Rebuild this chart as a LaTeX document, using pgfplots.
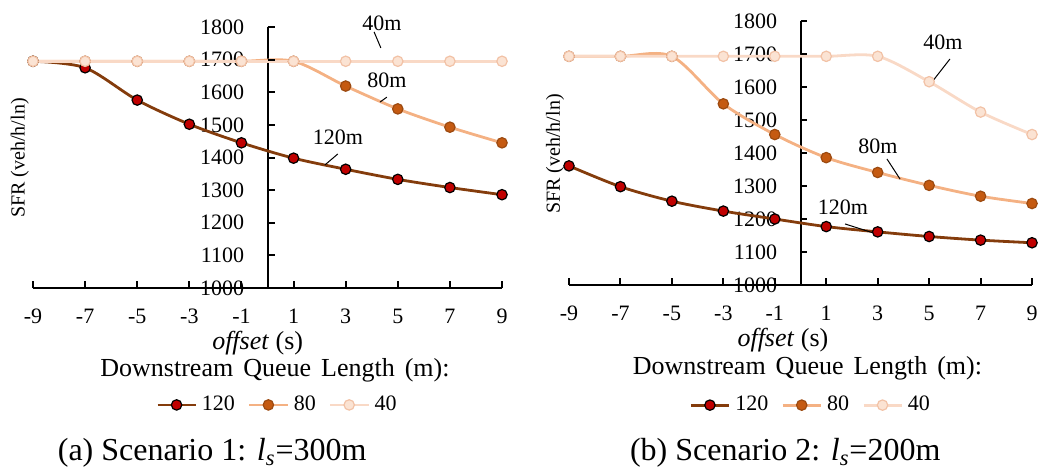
\documentclass[border=0pt]{standalone}
\usepackage{fontspec}
\setmainfont{Liberation Serif}
\usepackage{pgfplots}
\usepackage{pgfplotstable}
\pgfplotsset{compat=1.18}

\definecolor{cAline}{HTML}{843C0C}
\definecolor{cAfill}{HTML}{C00000}
\definecolor{cBline}{HTML}{F4B183}
\definecolor{cBfill}{HTML}{C55A11}
\definecolor{cBedge}{HTML}{9C4A10}
\definecolor{cCline}{HTML}{F9D9C6}
\definecolor{cCfill}{HTML}{FBE3D3}
\definecolor{cCedge}{HTML}{F2C2A6}

\pgfplotstableread{
x q120 q80 q40
-9 1695 1695 1695
-7 1675 1695 1695
-5 1576 1695 1695
-3 1502 1695 1695
-1 1445 1695 1695
1 1398 1695 1695
3 1364 1619 1695
5 1333 1549 1695
7 1308 1493 1695
9 1286 1445 1695
}\tabA

\pgfplotstableread{
x q120 q80 q40
-9 1361 1693 1693
-7 1298 1693 1693
-5 1254 1693 1693
-3 1224 1549 1693
-1 1200 1456 1693
1 1177 1386 1693
3 1161 1341 1693
5 1147 1302 1616
7 1136 1269 1524
9 1128 1247 1456
}\tabB

\newcommand\ftick{\fontsize{11}{13}\selectfont}
\newcommand\flab{\fontsize{13}{15}\selectfont}

\pgfplotsset{
  sfr/.style={
    scale only axis,
    anchor=south west,
    xmin=-9, xmax=9, ymin=1000, ymax=1800,
    axis x line=bottom, axis y line=center,
    axis line style={-, line width=1pt, black},
    hide obscured x ticks=false, hide obscured y ticks=false,
    xtick={-9,-7,...,9},
    ytick={1000,1100,...,1800},
    major tick style={draw=none},
    /pgf/number format/assume math mode=true,
    /pgf/number format/1000 sep={},
    ticklabel style={font=\ftick},
    xticklabel style={yshift=-5pt},
    yticklabel style={xshift=-6pt},
    clip=false,
    legend columns=3,
    legend style={draw=none, fill=none, font=\ftick, anchor=center,
      nodes={inner sep=0.5pt},
      /tikz/every odd column/.append style={column sep=2pt},
      /tikz/every even column/.append style={column sep=6pt},
      inner sep=0pt},
    legend cell align=left,
    legend image code/.code={
      \draw[mark repeat=2,mark phase=2] plot coordinates {(0pt,0pt) (9.5pt,0pt) (19pt,0pt)};
    },
  },
  s120/.style={cAline, line width=1.4pt, smooth, mark=*, mark size=2.6pt,
    mark options={fill=cAfill, draw=black, line width=0.6pt}},
  s80/.style={cBline, line width=1.4pt, smooth, mark=*, mark size=2.6pt,
    mark options={fill=cBfill, draw=cBedge, line width=0.6pt}},
  s40/.style={cCline, line width=1.4pt, smooth, mark=*, mark size=2.6pt,
    mark options={fill=cCfill, draw=cCedge, line width=0.6pt}},
}

\begin{document}
\begin{tikzpicture}
\path[use as bounding box] (0,0) rectangle (525pt,236pt);

% ---------- (a) ----------
\begin{axis}[sfr,
  at={(16.5pt,92pt)}, width=234.5pt, height=130.5pt,
  legend style={at={(axis description cs:0.520,-0.448)}},
]
\addplot[s120] table[x=x,y=q120] {\tabA};
\addplot[s80] table[x=x,y=q80] {\tabA};
\addplot[s40] table[x=x,y=q40] {\tabA};
\legend{120,80,40}
\draw[black, line width=1pt]
  (axis cs:-9,1000) -- (axis cs:-9,1021) (axis cs:-7,1000) -- (axis cs:-7,1021)
  (axis cs:-5,1000) -- (axis cs:-5,1021) (axis cs:-3,1000) -- (axis cs:-3,1021)
  (axis cs:-1,1000) -- (axis cs:-1,1021) (axis cs:1,1000) -- (axis cs:1,1021)
  (axis cs:3,1000) -- (axis cs:3,1021) (axis cs:5,1000) -- (axis cs:5,1021)
  (axis cs:7,1000) -- (axis cs:7,1021) (axis cs:9,1000) -- (axis cs:9,1021);
\draw[black, line width=1pt]
  (axis cs:0,1100) -- (axis cs:0.27,1100) (axis cs:0,1200) -- (axis cs:0.27,1200)
  (axis cs:0,1300) -- (axis cs:0.27,1300) (axis cs:0,1400) -- (axis cs:0.27,1400)
  (axis cs:0,1500) -- (axis cs:0.27,1500) (axis cs:0,1600) -- (axis cs:0.27,1600)
  (axis cs:0,1700) -- (axis cs:0.27,1700) (axis cs:0,1800) -- (axis cs:0.27,1800)
  (axis cs:0,1000) -- (axis cs:0.27,1000);
\node[font=\fontsize{10}{12}\selectfont, rotate=90] at (axis description cs:-0.028,0.498) {SFR (veh/h/ln)};
\node[font=\flab] at (axis description cs:0.479,-0.211) {\textit{offset} (s)};
\node[font=\flab] at (axis description cs:0.516,-0.314) {Downstream\hspace{5pt}Queue\hspace{5pt}Length\hspace{5pt}(m):};
\node[font=\fontsize{16}{18}\selectfont] at (axis description cs:0.382,-0.632) {(a) Scenario 1: \textit{l}\textsubscript{\textit{s}}=300m};
\node[font=\ftick] at (axis cs:4.39,1812) {40m};
\draw[black, line width=0.5pt] (axis cs:4.09,1785) -- (axis cs:4.35,1736);
\node[font=\ftick] at (axis cs:4.58,1638) {80m};
\draw[black, line width=0.5pt] (axis cs:4.58,1585) -- (axis cs:4.32,1570);
\node[font=\ftick] at (axis cs:2.70,1463) {120m};
\draw[black, line width=0.5pt] (axis cs:2.70,1411) -- (axis cs:2.20,1377);
\end{axis}

% ---------- (b) ----------
\begin{axis}[sfr,
  at={(284.5pt,93.5pt)}, width=231.5pt, height=132pt,
  legend style={at={(axis description cs:0.521,-0.455)}},
]
\addplot[s120] table[x=x,y=q120] {\tabB};
\addplot[s80] table[x=x,y=q80] {\tabB};
\addplot[s40] table[x=x,y=q40] {\tabB};
\legend{120,80,40}
\draw[black, line width=1pt]
  (axis cs:-9,1000) -- (axis cs:-9,1021) (axis cs:-7,1000) -- (axis cs:-7,1021)
  (axis cs:-5,1000) -- (axis cs:-5,1021) (axis cs:-3,1000) -- (axis cs:-3,1021)
  (axis cs:-1,1000) -- (axis cs:-1,1021) (axis cs:1,1000) -- (axis cs:1,1021)
  (axis cs:3,1000) -- (axis cs:3,1021) (axis cs:5,1000) -- (axis cs:5,1021)
  (axis cs:7,1000) -- (axis cs:7,1021) (axis cs:9,1000) -- (axis cs:9,1021);
\draw[black, line width=1pt]
  (axis cs:0,1100) -- (axis cs:0.27,1100) (axis cs:0,1200) -- (axis cs:0.27,1200)
  (axis cs:0,1300) -- (axis cs:0.27,1300) (axis cs:0,1400) -- (axis cs:0.27,1400)
  (axis cs:0,1500) -- (axis cs:0.27,1500) (axis cs:0,1600) -- (axis cs:0.27,1600)
  (axis cs:0,1700) -- (axis cs:0.27,1700) (axis cs:0,1800) -- (axis cs:0.27,1800)
  (axis cs:0,1000) -- (axis cs:0.27,1000);
\node[font=\fontsize{10}{12}\selectfont, rotate=90] at (axis description cs:-0.030,0.496) {SFR (veh/h/ln)};
\node[font=\flab] at (axis description cs:0.462,-0.208) {\textit{offset} (s)};
\node[font=\flab] at (axis description cs:0.515,-0.314) {Downstream\hspace{5pt}Queue\hspace{5pt}Length\hspace{5pt}(m):};
\node[font=\fontsize{16}{18}\selectfont] at (axis description cs:0.467,-0.636) {(b) Scenario 2: \textit{l}\textsubscript{\textit{s}}=200m};
\node[font=\ftick] at (axis cs:5.54,1736) {40m};
\draw[black, line width=0.5pt] (axis cs:5.81,1685) -- (axis cs:5.11,1615);
\node[font=\ftick] at (axis cs:3.01,1421) {80m};
\draw[black, line width=0.5pt] (axis cs:3.36,1382) -- (axis cs:3.87,1321);
\node[font=\ftick] at (axis cs:1.65,1236) {120m};
\draw[black, line width=0.5pt] (axis cs:1.73,1185) -- (axis cs:2.82,1158);
\end{axis}
\end{tikzpicture}
\end{document}
